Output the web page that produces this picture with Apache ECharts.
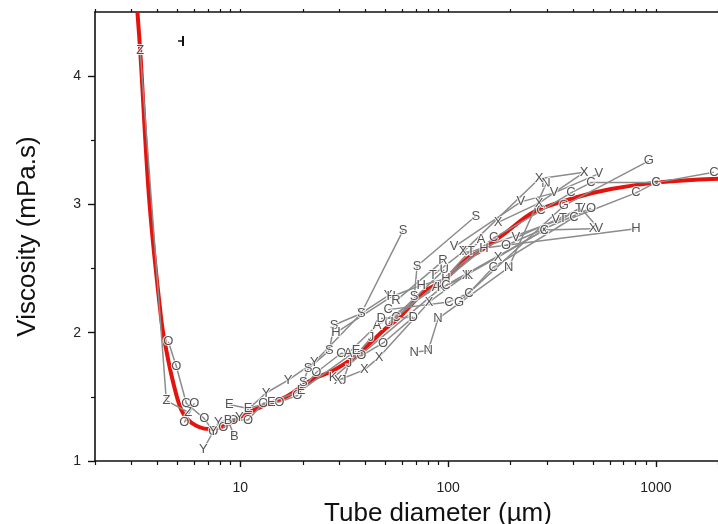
<!DOCTYPE html>
<html>
<head>
<meta charset="utf-8">
<script src="https://cdn.jsdelivr.net/npm/echarts@6/dist/echarts.min.js"></script>
<style>
html,body{margin:0;padding:0;background:#fff;overflow:hidden;}
#chart{width:718px;height:524px;}
</style>
</head>
<body>
<div id="chart"></div>
<script>
// Axis ticks
const xMajor = [10, 100, 1000];
const xMinor = [2,3,4,5,6,7,8,9,20,30,40,50,60,70,80,90,200,300,400,500,600,700,800,900,2000,3000,4000];
const yMajor = [1, 2, 3, 4];
const yMinor = [1.5, 2.5, 3.5];

// Red fitted curve: tube diameter (µm) and viscosity (mPa.s)
const fitD = [3.2,3.3,3.65,4.17,4.41,4.76,5.2,5.81,7.02,8.57,10.45,13.3,16.6,21.9,28.3,35.4,40.4,49,57.5,76.7,95.4,124,144,186,258,403,608,1000,2000,4000];
const fitV = [4.5,4.2,3.03,2.1,1.86,1.61,1.4,1.3,1.25,1.28,1.36,1.44,1.5,1.63,1.71,1.81,1.89,2.02,2.11,2.32,2.41,2.58,2.64,2.77,2.94,3.05,3.12,3.17,3.2,3.21];

// Individual studies: letter and [diameter, viscosity] points
const studyLetters = ['Z','O','O','Y','O','B','E','S','H','A','J','X','K','C','C','G','N','V','V','T','X','S','X','U','R','D','C','O'];
const s01 = [[3.30,4.20],[4.41,1.47],[5.62,1.38]];
const s02 = [[4.51,1.93],[4.92,1.74],[5.50,1.45],[6.71,1.33],[7.42,1.23]];
const s03 = [[5.38,1.30],[6.01,1.45]];
const s04 = [[6.64,1.09],[7.42,1.23],[7.84,1.30],[9.89,1.34],[13.3,1.53],[17.0,1.63],[22.7,1.77],[38.2,2.15],[51.5,2.29]];
const s05 = [[8.28,1.26],[9.25,1.32],[10.9,1.32],[12.9,1.45],[15.4,1.46],[18.8,1.51],[23.2,1.69],[30.6,1.84],[38.2,1.82],[48.7,1.92],[67.9,2.12]];
const s06 = [[8.75,1.32],[9.36,1.19]];
const s07 = [[8.85,1.44],[10.9,1.41],[14.1,1.46],[19.6,1.55],[36.1,1.86]];
const s08 = [[20.1,1.61],[21.2,1.72],[26.8,1.86],[28.3,2.06],[38.2,2.15],[60.8,2.80]];
const s09 = [[28.9,2.00],[53.2,2.28],[74.2,2.37],[97.8,2.42],[149,2.66],[801,2.81]];
const s10 = [[33.0,1.84],[45.6,2.06],[87.6,2.35],[144,2.73]];
const s11 = [[31.3,1.63],[33.4,1.76],[42.6,1.96]];
const s12 = [[29.6,1.63],[39.5,1.71],[46.6,1.81],[81.1,2.24],[122,2.45],[174,2.59],[290,2.80],[498,2.81]];
const s13 = [[28.0,1.65],[92.5,2.35],[126,2.45]];
const s14 = [[56.2,2.12],[166,2.74],[280,2.95],[390,3.09],[487,3.17],[1000,3.17],[1901,3.25]];
const s15 = [[51.5,2.18],[101,2.24],[126,2.31],[165,2.51],[403,2.90],[801,3.09],[1000,3.17]];
const s16 = [[113,2.24],[361,2.99],[925,3.34]];
const s17 = [[68.7,1.85],[80.2,1.86],[89.5,2.11],[196,2.51],[296,3.16]];
const s18 = [[107,2.67],[224,3.02],[324,3.09],[532,3.24]];
const s19 = [[212,2.74],[330,2.88],[436,2.97],[532,2.81]];
const s20 = [[84.7,2.45],[118,2.63],[129,2.63],[357,2.89],[427,2.97]];
const s21 = [[174,2.86],[274,3.01],[451,3.25]];
const s22 = [[68.7,2.28],[71.0,2.52],[136,2.91]];
const s23 = [[118,2.63],[274,3.20],[451,3.25]];
const s24 = [[52.0,2.08],[95.7,2.49]];
const s25 = [[56.2,2.25],[94.6,2.56]];
const s26 = [[47.6,2.11],[67.9,2.12]];
const s27 = [[97.8,2.37],[290,2.80]];
const s28 = [[190,2.68],[487,2.97]];
const studies = [s01,s02,s03,s04,s05,s06,s07,s08,s09,s10,s11,s12,s13,s14,s15,s16,s17,s18,s19,s20,s21,s22,s23,s24,s25,s26,s27,s28];

const FONT = 'Liberation Sans, Arial, sans-serif';
const chart = echarts.init(document.getElementById('chart'), null, {renderer: 'canvas'});

const series = [];
series.push({
  type: 'line', xAxisIndex: 0, yAxisIndex: 0,
  data: fitD.map(function (d, i) { return [d, fitV[i]]; }),
  symbol: 'none', smooth: 0.3,
  lineStyle: {color: '#e5130d', width: 4}, z: 1, silent: true, animation: false
});
studies.forEach(function (pts) {
  series.push({
    type: 'line', xAxisIndex: 0, yAxisIndex: 0, data: pts, symbol: 'none',
    lineStyle: {color: '#8c8c8c', width: 1.5}, z: 2, silent: true, animation: false
  });
});
const labelPts = [];
studies.forEach(function (pts, i) {
  pts.forEach(function (p) { labelPts.push([p[0], p[1], studyLetters[i]]); });
});
series.push({
  type: 'scatter', xAxisIndex: 0, yAxisIndex: 0, data: labelPts,
  symbol: 'circle', symbolSize: 1, itemStyle: {color: 'rgba(0,0,0,0)'},
  label: {show: true, position: 'inside', formatter: function (p) { return p.value[2]; },
    fontSize: 13, fontFamily: FONT, color: '#2a2a2a', textBorderColor: '#fff', textBorderWidth: 2},
  z: 4, silent: true, animation: false
});

const axisLine = {show: true, lineStyle: {color: '#111', width: 1.6}};
const plain = function (v) { return String(v); };
chart.setOption({
  animation: false,
  backgroundColor: '#fff',
  grid: {left: 95, top: 12, width: 686, height: 449, containLabel: false, outerBoundsMode: 'none'},
  xAxis: [
    {type: 'log', logBase: 10, min: 2, max: 4000, position: 'bottom', gridIndex: 0,
     axisLine: axisLine, splitLine: {show: false},
     axisTick: {show: true, customValues: xMajor, length: 6, lineStyle: {color: '#111', width: 1.4}},
     axisLabel: {customValues: xMajor, formatter: plain, fontSize: 14, color: '#222', fontFamily: FONT, margin: 20},
     name: 'Tube diameter (\u00b5m)', nameLocation: 'middle', nameGap: 40,
     nameTextStyle: {fontSize: 26, color: '#111', fontFamily: FONT}},
    {type: 'log', logBase: 10, min: 2, max: 4000, position: 'bottom', gridIndex: 0,
     axisLine: {show: false}, splitLine: {show: false},
     axisTick: {show: true, customValues: xMinor, length: 4, lineStyle: {color: '#111', width: 1.2}},
     axisLabel: {show: false}},
    {type: 'log', logBase: 10, min: 2, max: 4000, position: 'top', gridIndex: 0,
     axisLine: axisLine, splitLine: {show: false},
     axisTick: {show: true, customValues: xMinor.concat(xMajor), length: 3, lineStyle: {color: '#111', width: 1.2}},
     axisLabel: {show: false}}
  ],
  yAxis: [
    {type: 'value', min: 1, max: 4.5, position: 'left', gridIndex: 0,
     axisLine: axisLine, splitLine: {show: false},
     axisTick: {show: true, customValues: yMajor, length: 7, lineStyle: {color: '#111', width: 1.4}},
     axisLabel: {customValues: yMajor, formatter: plain, fontSize: 14, color: '#222', fontFamily: FONT, margin: 14},
     name: 'Viscosity (mPa.s)', nameLocation: 'middle', nameGap: 54, nameRotate: 90,
     nameTextStyle: {fontSize: 26, color: '#111', fontFamily: FONT}},
    {type: 'value', min: 1, max: 4.5, position: 'left', gridIndex: 0,
     axisLine: {show: false}, splitLine: {show: false},
     axisTick: {show: true, customValues: yMinor, length: 4, lineStyle: {color: '#111', width: 1.2}},
     axisLabel: {show: false}}
  ],
  graphic: [
    {type: 'line', shape: {x1: 178, y1: 41, x2: 183, y2: 41}, style: {stroke: '#111', lineWidth: 1.5}},
    {type: 'line', shape: {x1: 183, y1: 36, x2: 183, y2: 46}, style: {stroke: '#111', lineWidth: 2}}
  ],
  series: series
});
</script>
</body>
</html>
